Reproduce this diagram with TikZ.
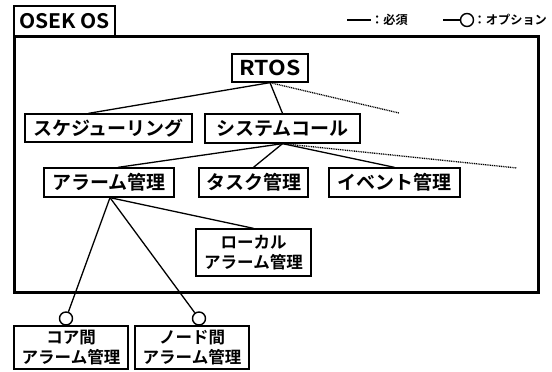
\documentclass[tikz,border=0pt]{standalone}
\usepackage{fontspec}
\setmainfont{Noto Sans CJK JP}[BoldFont={* Bold}]
\begin{document}
\begin{tikzpicture}[x=1pt,y=-1pt,
  box/.style={draw, line width=1.3pt, inner sep=0pt, align=center,
    font=\bfseries\fontsize{19}{20}\selectfont},
  boxtwo/.style={box, font=\bfseries\fontsize{16.5}{20}\selectfont},
  conn/.style={line width=1.3pt},
  opt/.style={line width=1.3pt, dash pattern=on 1pt off 0.8pt},
  optc/.style={circle, draw, line width=1.4pt, fill=white, inner sep=0pt},
  legtext/.style={anchor=west, inner sep=0pt, font=\bfseries\fontsize{12.2}{13}\selectfont}]
\useasboundingbox (0,0) rectangle (552,372);
\node[draw, line width=3pt, minimum width=524, minimum height=256, inner sep=0pt] (main) at (276,164) {};
\node[draw, line width=2.5pt, fill=white, minimum width=101, minimum height=30, inner sep=0pt,
  font=\bfseries\fontsize{20}{22}\selectfont] (tab) at (64.5,21) {\scalebox{1.05}[1]{OSEK OS}};
\node[box, minimum width=76, minimum height=28, font=\bfseries\fontsize{20.5}{22}\selectfont] (rtos) at (270,68) {\scalebox{1.12}[1]{RTOS}};
\node[box, minimum width=167, minimum height=28] (sched) at (108.5,128) {スケジューリング};
\node[box, minimum width=155, minimum height=29] (sys) at (282.5,128.5) {システムコール};
\node[box, minimum width=130, minimum height=29] (alarm) at (109,182.5) {アラーム管理};
\node[box, minimum width=109, minimum height=29] (task) at (253.5,182.5) {タスク管理};
\node[box, minimum width=131, minimum height=29] (event) at (394.5,182.5) {イベント管理};
\node[boxtwo, minimum width=115, minimum height=47] (local) at (253.5,252.5) {ローカル\\アラーム管理};
\node[boxtwo, minimum width=114, minimum height=43] (core) at (71,347.5) {コア間\\アラーム管理};
\node[boxtwo, minimum width=114, minimum height=43] (nodeb) at (192,347.5) {ノード間\\アラーム管理};
\node[optc, minimum size=13] (c1) at (66,318.5) {};
\node[optc, minimum size=13] (c2) at (199,318.5) {};
\coordinate (d1) at (399,113);
\coordinate (d2) at (517,168);
\draw[conn] (rtos.south) -- ([xshift=-20pt]sched.north);
\draw[conn] (rtos.south) -- (sys.north);
\draw[opt] (rtos.south) -- (d1);
\draw[conn] (sys.south) -- ([xshift=9pt]alarm.north);
\draw[conn] (sys.south) -- (task.north);
\draw[conn] (sys.south) -- (event.north);
\draw[opt] (sys.south) -- (d2);
\draw[conn] ([xshift=1pt]alarm.south) -- (local.north);
\draw[conn] ([xshift=1pt]alarm.south) -- (c1);
\draw[conn] ([xshift=1pt]alarm.south) -- (c2);
% legend
\coordinate (la) at (347,20);
\coordinate (lb) at (371,20);
\draw[conn] (la) -- (lb);
\node[legtext] (lt1) at (lb) {：必須};
\coordinate (lc) at (443,20);
\node[optc, minimum size=13] (lo) at (467,20) {};
\draw[conn] (lc) -- (lo);
\node[legtext] (lt2) at (473.5,20) {：オプション};
\end{tikzpicture}
\end{document}
